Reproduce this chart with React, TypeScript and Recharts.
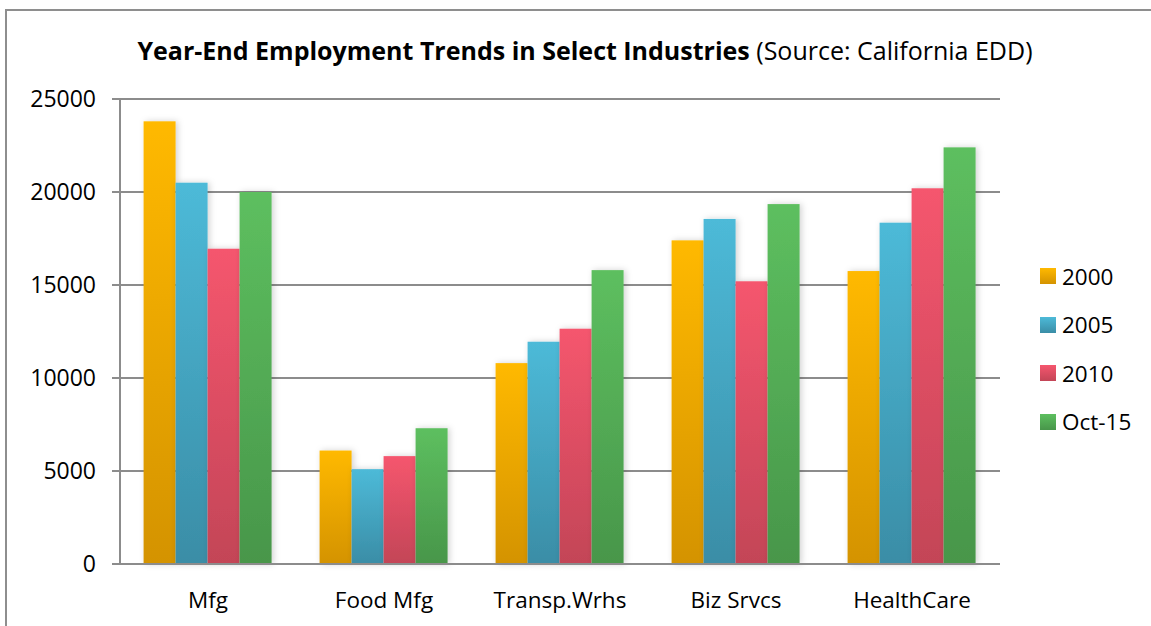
import { BarChart, Bar, XAxis, YAxis, CartesianGrid } from "recharts";

const industries = ["Mfg", "Food Mfg", "Transp.Wrhs", "Biz Srvcs", "HealthCare"];
const y2000 = [23800, 6100, 10800, 17400, 15750];
const y2005 = [20500, 5100, 11950, 18550, 18350];
const y2010 = [16950, 5800, 12650, 15200, 20200];
const oct15 = [20000, 7300, 15800, 19350, 22400];
const yTicks = [0, 5000, 10000, 15000, 20000, 25000];

const SERIES = [
  { key: "y2000", name: "2000", top: "#FFB900", bottom: "#D49300" },
  { key: "y2005", name: "2005", top: "#4DBAD8", bottom: "#3A8DA6" },
  { key: "y2010", name: "2010", top: "#F5566E", bottom: "#C34557" },
  { key: "oct15", name: "Oct-15", top: "#5DBF5F", bottom: "#48964A" },
];

const rows = industries.map((name, i) => ({
  name,
  y2000: y2000[i],
  y2005: y2005[i],
  y2010: y2010[i],
  oct15: oct15[i],
}));

const FONT = "'Open Sans', sans-serif";
const GRID = "#8c8c8c";

const ShadowBar = (props: any) => {
  const { x, y, width, height, fill } = props;
  if (!height || height <= 0) return null;
  return <rect x={x} y={y} width={width} height={height} fill={fill} filter="url(#barShadow)" />;
};

export default function App() {
  return (
    <div
      style={{
        position: "absolute",
        left: 0,
        top: 0,
        width: 1151,
        height: 626,
        overflow: "hidden",
        background: "#fff",
        fontFamily: FONT,
      }}
    >
      <div
        style={{
          position: "absolute",
          left: 5,
          top: 9,
          width: 1170,
          height: 640,
          border: "2px solid #8e8e8e",
        }}
      />
      <div
        style={{
          position: "absolute",
          left: 0,
          width: 1170,
          top: 33,
          textAlign: "center",
          fontSize: 25,
          color: "#000",
          whiteSpace: "nowrap",
        }}
      >
        <span style={{ fontWeight: 700 }}>Year-End Employment Trends in Select Industries</span>{" "}
        <span>(Source: California EDD)</span>
      </div>

      <div style={{ position: "absolute", left: 0, top: 0 }}>
        <BarChart
          width={1151}
          height={626}
          data={rows}
          margin={{ top: 99, right: 151, bottom: 0, left: 0 }}
          barCategoryGap="13.4%"
          barGap={0}
        >
          <defs>
            {SERIES.map((s) => (
              <linearGradient key={s.key} id={`grad-${s.key}`} x1="0" y1="0" x2="0" y2="1">
                <stop offset="0%" stopColor={s.top} />
                <stop offset="100%" stopColor={s.bottom} />
              </linearGradient>
            ))}
            <filter id="barShadow" x="-30%" y="-10%" width="160%" height="120%">
              <feDropShadow dx="2" dy="0" stdDeviation="3" floodColor="#000" floodOpacity="0.18" />
            </filter>
          </defs>
          <CartesianGrid vertical={false} stroke={GRID} strokeWidth={2} />
          <XAxis
            xAxisId="edge"
            type="number"
            domain={[0, 5]}
            ticks={[0, 1, 2, 3, 4, 5]}
            allowDataOverflow
            height={0}
            tick={false}
            axisLine={false}
            tickLine={{ stroke: GRID, strokeWidth: 2 }}
            tickSize={9}
          />
          <XAxis
            dataKey="name"
            height={62}
            axisLine={{ stroke: GRID, strokeWidth: 2 }}
            tickLine={false}
            tickMargin={22}
            tick={{ fill: "#000", fontSize: 22.5, fontFamily: FONT }}
          />
          <YAxis
            width={120}
            domain={[0, 25000]}
            ticks={yTicks}
            axisLine={{ stroke: GRID, strokeWidth: 2 }}
            tickLine={{ stroke: GRID, strokeWidth: 2 }}
            tickSize={8}
            tickMargin={16}
            tick={{ fill: "#000", fontSize: 23, fontFamily: FONT }}
          />
          {SERIES.map((s) => (
            <Bar
              key={s.key}
              dataKey={s.key}
              name={s.name}
              fill={`url(#grad-${s.key})`}
              shape={<ShadowBar />}
              isAnimationActive={false}
            />
          ))}
        </BarChart>
      </div>

      <div style={{ position: "absolute", left: 1040, top: 252 }}>
        {SERIES.map((s) => (
          <div
            key={s.key}
            style={{ display: "flex", alignItems: "center", height: 48.5, fontSize: 22.5, color: "#000" }}
          >
            <span
              style={{
                display: "inline-block",
                width: 16,
                height: 16,
                marginRight: 6,
                background: `linear-gradient(${s.top}, ${s.bottom})`,
              }}
            />
            {s.name}
          </div>
        ))}
      </div>
    </div>
  );
}
